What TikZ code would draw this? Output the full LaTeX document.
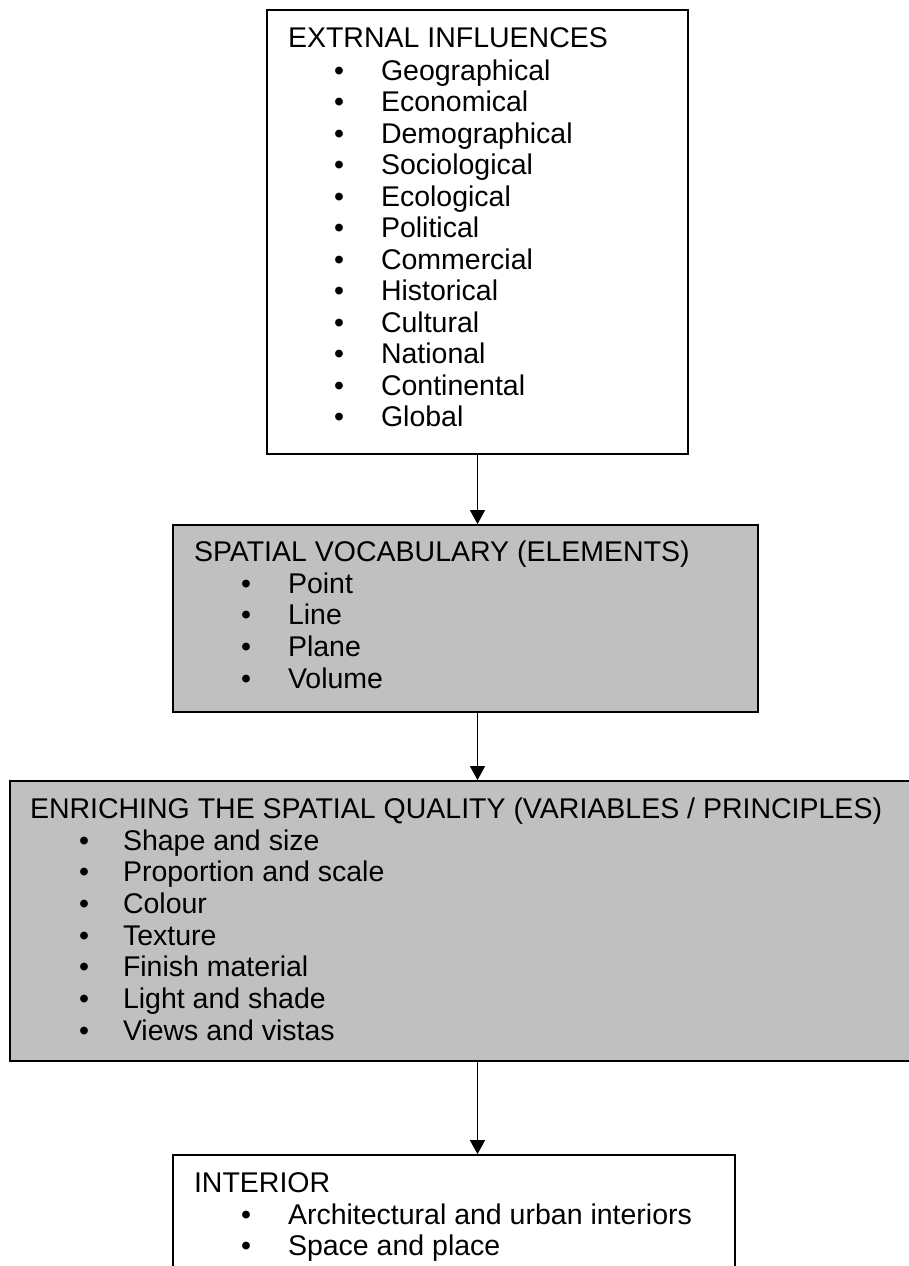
\documentclass[tikz,border=0pt]{standalone}
\usepackage{fontspec}
\setmainfont{Liberation Sans}
\usetikzlibrary{arrows.meta}
\definecolor{boxgrey}{RGB}{192,192,192}
\tikzset{
  whitebox/.style={draw=black, line width=1.8pt, fill=white, rectangle, inner sep=0pt},
  greybox/.style={draw=black, line width=1.8pt, fill=boxgrey, rectangle, inner sep=0pt},
  txt/.style={inner sep=0pt, outer sep=0pt, anchor=base west, font=\fontsize{28.5}{32}\selectfont},
  bul/.style={inner sep=0pt, outer sep=0pt, anchor=base, font=\fontsize{28.5}{32}\selectfont},
  arr/.style={line width=1.3pt, -{Triangle[length=14pt,width=15pt]}}
}
\begin{document}
\begin{tikzpicture}[x=1pt,y=-1pt]
\useasboundingbox (0,0) rectangle (909,1266);
\clip (0,0) rectangle (909,1266);
\fill[white] (0,0) rectangle (909,1266);
% boxes
\node[whitebox, minimum width=421pt, minimum height=444pt] (box1) at (477.5,232) {};
\node[greybox, minimum width=585pt, minimum height=187pt] (box2) at (465.5,618.5) {};
\node[greybox, minimum width=960pt, minimum height=280pt] (box3) at (490,921) {};
\node[whitebox, minimum width=562pt, minimum height=170pt] (box4) at (454,1240) {};
% connectors
\draw[arr] (box1.south) -- (box1.south |- box2.north);
\draw[arr] (box2.south -| box1.south) -- (box3.north -| box1.south);
\draw[arr] (box3.south -| box1.south) -- (box4.north -| box1.south);
% box 1 text
\node[txt] (t1) at (288,47.5) {EXTRNAL INFLUENCES};
\foreach \w [count=\k] in {Geographical,Economical,Demographical,Sociological,Ecological,Political,Commercial,Historical,Cultural,National,Continental,Global}{
  \node[bul] (b1-\k) at (339,{80+31.5*(\k-1)}) {•};
  \node[txt] (i1-\k) at (381,{80+31.5*(\k-1)}) {\w};
}
% box 2 text
\node[txt] (t2) at (194,561.5) {SPATIAL VOCABULARY (ELEMENTS)};
\foreach \w [count=\k] in {Point,Line,Plane,Volume}{
  \node[bul] (b2-\k) at (246,{593+31.7*(\k-1)}) {•};
  \node[txt] (i2-\k) at (288,{593+31.7*(\k-1)}) {\w};
}
% box 3 text
\node[txt] (t3) at (30,818) {ENRICHING THE SPATIAL QUALITY (VARIABLES / PRINCIPLES)};
\foreach \w [count=\k] in {Shape and size,Proportion and scale,Colour,Texture,Finish material,Light and shade,Views and vistas}{
  \node[bul] (b3-\k) at (84,{850+31.7*(\k-1)}) {•};
  \node[txt] (i3-\k) at (123,{850+31.7*(\k-1)}) {\w};
}
% box 4 text
\node[txt] (t4) at (194,1192) {INTERIOR};
\foreach \w [count=\k] in {Architectural and urban interiors,Space and place}{
  \node[bul] (b4-\k) at (246,{1224+31.3*(\k-1)}) {•};
  \node[txt] (i4-\k) at (288,{1224+31.3*(\k-1)}) {\w};
}
\end{tikzpicture}
\end{document}
